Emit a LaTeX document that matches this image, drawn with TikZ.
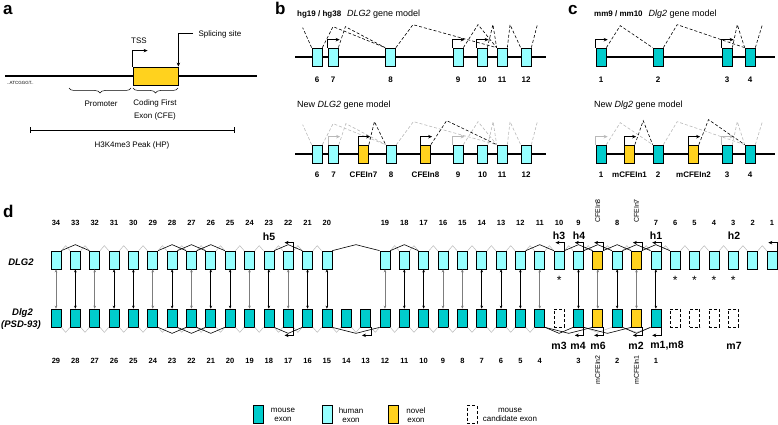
\documentclass[tikz,border=0pt]{standalone}
\usepackage{fontspec}
\setmainfont{Liberation Sans}
\usetikzlibrary{arrows.meta,calc,decorations.pathreplacing}
\definecolor{hum}{RGB}{150,255,255}
\definecolor{mou}{RGB}{0,204,204}
\definecolor{nov}{RGB}{255,210,30}
\definecolor{lgr}{RGB}{185,185,185}
\definecolor{mgr}{RGB}{125,125,125}
\newcommand\splc[5][]{\draw[#1] (#2) -- ($(#2)!#4!(#3)+(0,#5)$) -- (#3);}
\newcommand\fsz[1]{\fontsize{#1}{#1}\selectfont}
\newcommand\bt[1]{{\fsz{8}\bfseries #1}}
\begin{document}
\begin{tikzpicture}[x=1pt,y=-1pt,
  exon/.style={draw,line width=0.7pt,minimum width=10pt,minimum height=18pt,inner sep=0pt},
  hx/.style={exon,fill=hum},
  mx/.style={exon,fill=mou},
  nx/.style={exon,fill=nov},
  cx/.style={draw,densely dashed,line width=0.6pt,minimum width=10pt,minimum height=18pt,inner sep=0pt},
  chrom/.style={line width=1.4pt},
  bsp/.style={densely dashed,line width=0.6pt},
  gsp/.style={densely dashed,line width=0.6pt,draw=lgr},
  tss/.style={line width=0.7pt,-{Stealth[length=4pt,width=3.5pt]}},
  gtss/.style={tss,draw=lgr},
  num/.style={font=\bfseries\fsz{8}},
  dnum/.style={font=\bfseries\fsz{7.5}},
  rlab/.style={font=\fsz{7},rotate=90},
  txt/.style={font=\fontsize{8}{12.5}\selectfont},
  leg/.style={font=\fontsize{8}{9}\selectfont,align=center},
  plab/.style={font=\bfseries\fsz{17},anchor=base west,inner sep=0pt},
  ttl/.style={font=\fsz{9},anchor=base west,inner sep=0pt},
  tag/.style={font=\bfseries\fsz{10.5}},
  gz/.style={line width=0.5pt,draw=lgr},
  bz/.style={line width=0.6pt},
  va/.style={line width=0.8pt,{Stealth[length=3pt,width=2.6pt]}-{Stealth[length=3pt,width=2.6pt]}},
]
\useasboundingbox (0,0) rectangle (778,425);

% ---------------- panel a
\node[plab] (pa) at (3,15) {a};
\coordinate (a1) at (5,76); \coordinate (a2) at (257,76);
\draw[chrom] (a1) -- (a2);
\node[draw,line width=0.8pt,fill=nov,minimum width=45pt,minimum height=18pt,inner sep=0pt] (cfe) at (155.5,76) {};
\node[font=\fsz{4.5},anchor=west,inner sep=0pt] (seq) at (7,83) {..ATCGGGT..};
\draw[tss] (cfe.north west) -- ++(0,-16) -- ++(15,0);
\node[txt] (tssl) at (139,41) {TSS};
\coordinate (ssa) at (193,33);
\draw[line width=0.7pt,-{Stealth[length=4pt,width=3.5pt]}] (ssa) -| (cfe.north east);
\node[txt,anchor=west] (ssl) at (195,34) {Splicing site};
\coordinate (pr1) at (69,88); \coordinate (pr2) at (131,88);
\draw[line width=0.5pt,decorate,decoration={brace,mirror,amplitude=5pt}] (pr1) -- (pr2);
\coordinate (cf1) at (133,88); \coordinate (cf2) at (178,88);
\draw[line width=0.5pt,decorate,decoration={brace,mirror,amplitude=5pt}] (cf1) -- (cf2);
\node[txt] (prl) at (101,104) {Promoter};
\node[txt,align=center] (cfl) at (155,110) {Coding First\\Exon (CFE)};
\coordinate (hp1) at (30,130); \coordinate (hp2) at (235,130);
\draw[line width=1pt,{Bar[width=6pt]}-{Bar[width=6pt]}] (hp1) -- (hp2);
\node[txt] (hpl) at (132,145) {H3K4me3 Peak (HP)};

% ---------------- panel b
\node[plab] (pb) at (275,15) {b};
\node[ttl] (btt) at (297,17) {\bt{hg19 / hg38}\hspace{6pt}\textit{DLG2} gene model};
\coordinate (bl1) at (295,57); \coordinate (bl2) at (546,57);
\draw[chrom] (bl1) -- (bl2);
\foreach \n/\x in {6/317,7/333,8/390.5,9/458,10/482,11/502,12/526} {
  \node[hx] (bt\n) at (\x,57) {};
  \node[num] (btl\n) at (\x,80) {\n};
}
\draw[bsp] (bt6.north west) -- ++(-9,-20);
\splc[bsp]{bt6.north east}{bt8.north west}{0.17}{-21}
\splc[bsp]{bt7.north east}{bt8.north west}{0.15}{-21}
\splc[bsp]{bt8.north east}{bt11.north west}{0.17}{-23}
\splc[bsp]{bt9.north east}{bt11.north west}{0.44}{-23}
\splc[bsp]{bt10.north east}{bt11.north west}{0.6}{-23}
\splc[bsp]{bt11.north east}{bt12.north west}{0.2}{-23}
\draw[bsp] (bt12.north east) -- ++(6,-23);
\draw[tss] (bt7.north west) -- ++(0,-8) -- ++(12,0);
\draw[tss] (bt9.north west) -- ++(0,-8) -- ++(12,0);
\draw[tss] (bt10.north west) -- ++(0,-8) -- ++(12,0);

\node[ttl] (bbt) at (297,108) {New \textit{DLG2} gene model};
\coordinate (bl3) at (295,154); \coordinate (bl4) at (546,154);
\draw[chrom] (bl3) -- (bl4);
\foreach \n/\x in {6/317,7/333.5,8/391,9/458,10/482.5,11/502,12/526} {
  \node[hx] (bb\n) at (\x,154) {};
  \node[num] (bbl\n) at (\x,175) {\n};
}
\node[nx] (bbA) at (363.5,154) {}; \node[num] (bblA) at (363.5,175) {CFEIn7};
\node[nx] (bbB) at (425.5,154) {}; \node[num] (bblB) at (425.5,175) {CFEIn8};
\draw[gsp] (bb6.north west) -- ++(-9,-20);
\splc[gsp]{bb6.north east}{bb8.north west}{0.17}{-21}
\splc[gsp]{bb7.north east}{bb8.north west}{0.15}{-21}
\splc[gsp]{bb8.north east}{bb11.north west}{0.17}{-23}
\splc[gsp]{bb9.north east}{bb11.north west}{0.44}{-23}
\splc[gsp]{bb10.north east}{bb11.north west}{0.6}{-23}
\splc[gsp]{bb11.north east}{bb12.north west}{0.2}{-23}
\draw[gsp] (bb12.north east) -- ++(6,-23);
\draw[gtss] (bb7.north west) -- ++(0,-8) -- ++(12,0);
\draw[gtss] (bb9.north west) -- ++(0,-8) -- ++(12,0);
\splc[bsp]{bbA.north east}{bb8.north west}{0.33}{-23}
\splc[bsp]{bbB.north east}{bb11.north west}{0.24}{-24}
\draw[tss] (bbA.north west) -- ++(0,-8) -- ++(12,0);
\draw[tss] (bbB.north west) -- ++(0,-8) -- ++(12,0);

% ---------------- panel c
\node[plab] (pc) at (568,15) {c};
\node[ttl] (ctt) at (594,17) {\bt{mm9 / mm10}\hspace{6pt}\textit{Dlg2} gene model};
\coordinate (cl1) at (600,57); \coordinate (cl2) at (775,57);
\draw[chrom] (cl1) -- (cl2);
\foreach \n/\x in {1/601,2/658,3/727,4/750} {
  \node[mx] (ct\n) at (\x,57) {};
  \node[num] (ctl\n) at (\x,80) {\n};
}
\splc[bsp]{ct1.north east}{ct2.north west}{0.3}{-22}
\splc[bsp]{ct2.north east}{ct4.north west}{0.17}{-23}
\splc[bsp]{ct3.north east}{ct4.north west}{0.4}{-23}
\draw[bsp] (ct4.north east) -- ++(7,-23);
\draw[tss] (ct1.north west) -- ++(0,-8) -- ++(12,0);
\draw[tss] (ct3.north west) -- ++(0,-8) -- ++(12,0);

\node[ttl] (cbt) at (594,108) {New \textit{Dlg2} gene model};
\coordinate (cl3) at (600,154); \coordinate (cl4) at (775,154);
\draw[chrom] (cl3) -- (cl4);
\foreach \n/\x in {1/601,2/658,3/727,4/750} {
  \node[mx] (cb\n) at (\x,154) {};
  \node[num] (cbl\n) at (\x,175) {\n};
}
\node[nx] (cbA) at (629.5,154) {}; \node[num] (cblA) at (629.5,175) {mCFEIn1};
\node[nx] (cbB) at (693.5,154) {}; \node[num] (cblB) at (693.5,175) {mCFEIn2};
\splc[gsp]{cb1.north east}{cb2.north west}{0.3}{-22}
\splc[gsp]{cb2.north east}{cb4.north west}{0.17}{-23}
\splc[gsp]{cb3.north east}{cb4.north west}{0.4}{-23}
\draw[gsp] (cb4.north east) -- ++(7,-23);
\draw[gtss] (cb1.north west) -- ++(0,-8) -- ++(12,0);
\draw[gtss] (cb3.north west) -- ++(0,-8) -- ++(12,0);
\splc[bsp]{cbA.north east}{cb2.north west}{0.47}{-24}
\splc[bsp]{cbB.north east}{cb4.north west}{0.21}{-25}
\draw[tss] (cbA.north west) -- ++(0,-8) -- ++(12,0);
\draw[tss] (cbB.north west) -- ++(0,-8) -- ++(12,0);

% ---------------- panel d
\node[plab] (pd) at (3,217) {d};
\node[font=\bfseries\itshape\fsz{9.5}] (dlgH) at (21,262) {DLG2};
\node[font=\bfseries\itshape\fsz{9.5}] (dlgM) at (22.5,313) {Dlg2};
\node[font=\bfseries\itshape\fsz{9.5}] (psd) at (21,325.5) {(PSD-93)};

% human row
\foreach \s/\l in {0/34,1/33,2/32,3/31,4/30,5/29,6/28,7/27,8/26,9/25,10/24,11/23,12/22,13/21,14/20,17/19,18/18,19/17,20/16,21/15,22/14,23/13,24/12,25/11,26/10,27/9,29/8,31/7,32/6,33/5,34/4,35/3,36/2,37/1} {
  \pgfmathsetmacro\xx{56+19.35*\s}
  \node[hx] (H\s) at (\xx,260) {};
  \node[dnum] (HL\s) at (\xx,223) {\l};
}
\foreach \s/\l in {28/CFEIn8,30/CFEIn7} {
  \pgfmathsetmacro\xx{56+19.35*\s}
  \node[nx] (H\s) at (\xx,260) {};
  \node[rlab] (HL\s) at (\xx,211) {\l};
}
% mouse row
\foreach \s in {0,...,25} {
  \pgfmathsetmacro\xx{56+19.35*\s}
  \pgfmathtruncatemacro\lab{29-\s}
  \node[mx] (M\s) at (\xx,318) {};
  \node[dnum] (ML\s) at (\xx,361) {\lab};
}
\foreach \s/\l in {27/3,29/2,31/1} {
  \pgfmathsetmacro\xx{56+19.35*\s}
  \node[mx] (M\s) at (\xx,318) {};
  \node[dnum] (ML\s) at (\xx,361) {\l};
}
\foreach \s/\l in {28/mCFEIn2,30/mCFEIn1} {
  \pgfmathsetmacro\xx{56+19.35*\s}
  \node[nx] (M\s) at (\xx,318) {};
  \node[rlab] (ML\s) at (\xx,370) {\l};
}
\foreach \s in {26,32,33,34,35} {
  \pgfmathsetmacro\xx{56+19.35*\s}
  \node[cx] (M\s) at (\xx,318) {};
}

% grey splice zigzags
\foreach \a in {0,...,13,17,18,...,36} {
  \pgfmathtruncatemacro\b{\a+1}
  \splc[gz]{H\a.north east}{H\b.north west}{0.5}{-5}
}
\foreach \a in {0,...,24} {
  \pgfmathtruncatemacro\b{\a+1}
  \splc[gz]{M\a.south east}{M\b.south west}{0.5}{5}
}
\splc[gz]{M27.south east}{M29.south west}{0.5}{5}
\splc[gz]{M29.south east}{M31.south west}{0.5}{5}

% black splice lines, human
\foreach \a/\b in {0/2,5/7,6/8,7/9,11/13,14/17,17/19,24/26,26/28,27/29,28/30,29/31,30/32} {
  \splc[bz]{H\a.north east}{H\b.north west}{0.5}{-6}
}
% black splice lines, mouse
\foreach \a/\b in {5/7,6/8,7/9,11/13,14/17,25/27,25/28,27/30,29/31} {
  \splc[bz]{M\a.south east}{M\b.south west}{0.5}{6}
}

% TSS arrows
\foreach \s in {12,26,27,28,30,31,37} {
  \draw[tss] (H\s.north east) -- ++(0,-8) -- ++(-9,0);
}
\foreach \s in {12,16,27,28,30,31} {
  \draw[tss] (M\s.south east) -- ++(0,8) -- ++(-9,0);
}

% orthology arrows
\foreach \s/\c in {0/mgr,1/black,2/mgr,3/black,4/black,5/mgr,6/black,7/mgr,8/black,9/black,10/mgr,11/black,12/mgr,13/black,14/black,17/mgr,18/black,19/black,20/mgr,21/mgr,22/black,23/black,24/black,25/mgr,27/black,28/mgr,29/black,30/mgr,31/black} {
  \draw[va,draw=\c] (H\s.south) -- (M\s.north);
}

% asterisks
\foreach \s in {26,32,33,34,35} {
  \pgfmathsetmacro\xx{56+19.35*\s}
  \node[font=\fsz{12}] (ast\s) at (\xx,280) {*};
}

% h / m tags
\node[tag] (h5) at (269,237) {h5};
\node[tag] (h3) at (559,236) {h3};
\node[tag] (h4) at (579,236) {h4};
\node[tag] (h1) at (656,236) {h1};
\node[tag] (h2) at (734,236) {h2};
\node[tag] (m3) at (559,346) {m3};
\node[tag] (m4) at (578,346) {m4};
\node[tag] (m6) at (598,346) {m6};
\node[tag] (m2) at (636,346) {m2};
\node[tag] (m18) at (667,346) {m1,m8};
\node[tag] (m7) at (734,346) {m7};

% legend
\node[mx] (lg1) at (258,414.5) {}; \node[leg] (lg1t) at (283,415) {mouse\\exon};
\node[hx] (lg2) at (327,414.5) {}; \node[leg] (lg2t) at (351,415) {human\\exon};
\node[nx] (lg3) at (393.5,414.5) {}; \node[leg] (lg3t) at (416,415) {novel\\exon};
\node[cx] (lg4) at (472,414.5) {}; \node[leg] (lg4t) at (510,415) {mouse\\candidate exon};
\end{tikzpicture}
\end{document}
